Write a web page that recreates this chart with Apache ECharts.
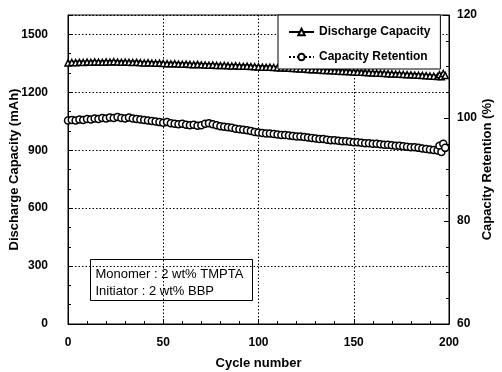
<!DOCTYPE html>
<html>
<head>
<meta charset="utf-8">
<script src="https://cdn.jsdelivr.net/npm/echarts@6/dist/echarts.min.js"></script>
<style>
  html, body { margin: 0; padding: 0; background: #fff; }
  #chart { width: 502px; height: 372px; }
</style>
</head>
<body>
<div id="chart"></div>
<script>
const FONT = "Arial, 'Liberation Sans', sans-serif";

// cycle numbers of the plotted points
const cycles = [
  0, 2, 4, 6, 8, 10, 12, 14, 16, 18, 20, 22, 24, 26, 28, 30,
  32, 34, 36, 38, 40, 42, 44, 46, 48, 50,
  52, 54, 56, 58, 60, 62, 64, 66, 68, 70,
  72, 74, 76, 78, 80, 82, 84, 86, 88, 90, 92, 94, 96, 98, 100,
  102, 104, 106, 108, 110, 112, 114, 116, 118, 120, 122, 124, 126, 128, 130,
  132, 134, 136, 138, 140, 142, 144, 146, 148, 150, 152, 154, 156, 158, 160,
  162, 164, 166, 168, 170, 172, 174, 176, 178, 180, 182, 184, 186, 188, 190, 192,
  194, 195, 196, 197, 198
];

// discharge capacity (mAh), left axis
const discharge = [
  1352, 1354, 1353, 1355, 1354, 1356, 1355, 1357, 1356, 1355, 1357, 1356, 1358, 1356, 1355, 1356,
  1355, 1354, 1355, 1353, 1352, 1353, 1351, 1350, 1351, 1349,
  1348, 1347, 1348, 1346, 1345, 1346, 1344, 1343, 1344, 1342,
  1341, 1340, 1341, 1339, 1338, 1339, 1337, 1336, 1337, 1335, 1334, 1335, 1333, 1332, 1331,
  1330, 1329, 1330, 1328, 1327, 1326, 1325, 1324, 1323, 1322, 1321, 1320, 1318, 1317, 1316,
  1315, 1313, 1312, 1311, 1310, 1309, 1308, 1308, 1306, 1305, 1304, 1303, 1302, 1301, 1300,
  1299, 1298, 1297, 1296, 1295, 1294, 1293, 1292, 1291, 1290, 1289, 1288, 1287, 1286, 1284, 1283,
  1281, 1291, 1280, 1297, 1287
];

// capacity retention (%), right axis
const retention = [
  99.5, 99.6, 99.5, 99.7, 99.6, 99.8, 99.7, 99.9, 99.8, 100.0, 99.9, 100.1, 100.0, 100.2, 100.0, 99.9,
  100.1, 99.9, 99.8, 99.7, 99.6, 99.5, 99.4, 99.3, 99.2, 99.1,
  99.2, 99.0, 98.9, 98.8, 98.9, 98.7, 98.6, 98.7, 98.5, 98.6,
  98.9, 99.0, 98.8, 98.6, 98.4, 98.3, 98.2, 98.1, 97.9, 97.8, 97.7, 97.6, 97.5, 97.3, 97.2,
  97.1, 97.0, 97.0, 96.9, 96.8, 96.7, 96.7, 96.6, 96.5, 96.4, 96.4, 96.3, 96.2, 96.1, 96.0,
  95.9, 95.9, 95.8, 95.7, 95.7, 95.6, 95.5, 95.5, 95.4, 95.3, 95.3, 95.2, 95.1, 95.1, 95.0,
  95.0, 94.9, 94.8, 94.8, 94.7, 94.6, 94.6, 94.5, 94.4, 94.3, 94.3, 94.2, 94.1, 94.0, 93.9, 93.8,
  93.7, 94.6, 93.4, 95.0, 94.2
];

const notes = ['Monomer : 2 wt% TMPTA', 'Initiator : 2 wt% BBP'];

const chart = echarts.init(document.getElementById('chart'));

const gridDots = { show: true, lineStyle: { color: '#000', width: 1, type: [1.5, 2] } };
const labelStyle = { color: '#000', fontFamily: FONT, fontWeight: 'bold', fontSize: 12, formatter: v => String(v) };
const nameStyle = { color: '#000', fontFamily: FONT, fontWeight: 'bold', fontSize: 13 };
const tick = { show: true, inside: true, length: 5, lineStyle: { color: '#000' } };

chart.setOption({
  animation: false,
  backgroundColor: '#fff',
  grid: {
    left: 68, right: 53, top: 15, bottom: 48,
    outerBoundsMode: 'none', containLabel: false,
    show: true, borderColor: '#000', borderWidth: 1, backgroundColor: 'transparent'
  },
  legend: {
    orient: 'vertical',
    left: 278, top: 15,
    padding: [11, 10, 6, 10],
    itemGap: 13,
    itemWidth: 25, itemHeight: 8,
    borderColor: '#000', borderWidth: 1,
    backgroundColor: '#fff',
    textStyle: { color: '#000', fontFamily: FONT, fontWeight: 'bold', fontSize: 12 },
    data: ['Discharge Capacity', 'Capacity Retention']
  },
  xAxis: {
    type: 'value', min: 0, max: 200, interval: 50,
    name: 'Cycle number', nameLocation: 'middle', nameGap: 33, nameMoveOverlap: false,
    nameTextStyle: nameStyle,
    axisLine: { show: true, lineStyle: { color: '#000' } },
    axisTick: tick,
    minorTick: { show: true, splitNumber: 5, length: 3, lineStyle: { color: '#000' } },
    axisLabel: Object.assign({ margin: 13 }, labelStyle),
    splitLine: gridDots
  },
  yAxis: [
    {
      type: 'value', min: 0, max: 1600, interval: 300,
      name: 'Discharge Capacity (mAh)', nameLocation: 'middle', nameGap: 47, nameRotate: 90,
      nameMoveOverlap: false,
      nameTextStyle: nameStyle,
      axisLine: { show: true, lineStyle: { color: '#000' } },
      axisTick: tick,
      minorTick: { show: true, splitNumber: 3, length: 3, lineStyle: { color: '#000' } },
      axisLabel: Object.assign({ margin: 20, showMaxLabel: false }, labelStyle),
      splitLine: gridDots
    },
    {
      type: 'value', min: 60, max: 120, interval: 20, position: 'right',
      name: 'Capacity Retention (%)', nameLocation: 'middle', nameGap: 32, nameRotate: 90,
      nameMoveOverlap: false,
      nameTextStyle: nameStyle,
      axisLine: { show: true, lineStyle: { color: '#000' } },
      axisTick: tick,
      minorTick: { show: true, splitNumber: 4, length: 3, lineStyle: { color: '#000' } },
      axisLabel: Object.assign({ margin: 8 }, labelStyle),
      splitLine: { show: false }
    }
  ],
  series: [
    {
      name: 'Discharge Capacity',
      type: 'line',
      yAxisIndex: 0,
      data: cycles.map((c, i) => [c, discharge[i]]),
      symbol: 'triangle',
      symbolSize: 6,
      showAllSymbol: true,
      itemStyle: { color: '#fff', borderColor: '#000', borderWidth: 1.5 },
      lineStyle: { color: '#000', width: 4 }
    },
    {
      name: 'Capacity Retention',
      type: 'line',
      yAxisIndex: 1,
      data: cycles.map((c, i) => [c, retention[i]]),
      symbol: 'circle',
      symbolSize: 7,
      showAllSymbol: true,
      itemStyle: { color: '#fff', borderColor: '#000', borderWidth: 1.5 },
      lineStyle: { color: '#000', width: 3, type: 'dotted' }
    }
  ],
  graphic: [
    {
      type: 'group',
      left: 90, top: 259,
      children: [
        { type: 'rect', shape: { x: 0, y: 0, width: 162, height: 41 },
          style: { fill: '#fff', stroke: '#000', lineWidth: 1 } },
        { type: 'text', x: 5, y: 6,
          style: { text: notes.join('\n'), fill: '#000', font: '13px ' + FONT, lineHeight: 17 } }
      ]
    }
  ]
});
</script>
</body>
</html>
